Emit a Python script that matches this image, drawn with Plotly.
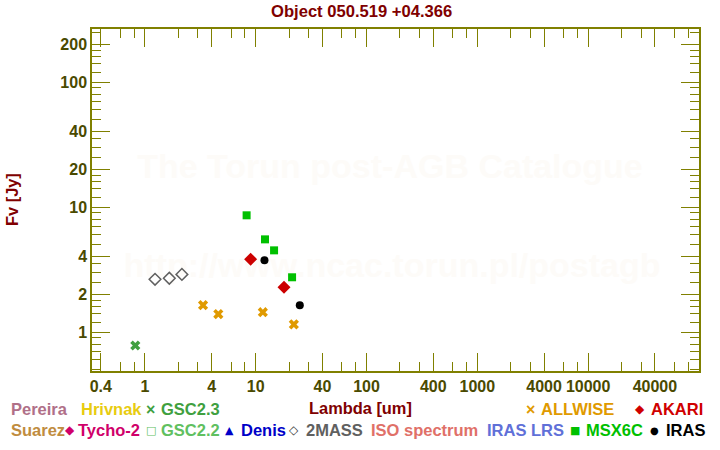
import plotly.graph_objects as go

# ---- data ----
gsc23_x = [0.82]
gsc23_y = [0.78]
twomass_x = [1.235, 1.662, 2.159]
twomass_y = [2.64, 2.69, 2.89]
allwise_x = [3.35, 4.6, 11.6, 22.1]
allwise_y = [1.64, 1.39, 1.44, 1.15]
msx_x = [8.28, 12.13, 14.65, 21.3]
msx_y = [8.58, 5.51, 4.50, 2.74]
akari_x = [9.0, 18.0]
akari_y = [3.82, 2.28]
iras_x = [12.0, 25.0]
iras_y = [3.75, 1.64]

x_major = [0.4, 1, 4, 10, 40, 100, 400, 1000, 4000, 10000, 40000]
x_minor = [0.6, 0.8, 2, 3, 6, 8, 20, 30, 60, 80, 200, 300, 600, 800,
           2000, 3000, 6000, 8000, 20000, 30000, 60000, 80000]
y_major = [1, 2, 4, 10, 20, 40, 100, 200]
y_minor = [0.5, 0.6, 0.7, 0.8, 0.9, 1.2, 1.4, 1.6, 1.8, 2.5, 3, 3.5, 5, 6, 7, 8, 9,
           12, 14, 16, 18, 25, 30, 35, 50, 60, 70, 80, 90, 120, 140, 160, 180, 250]

FONT = "Liberation Sans, Arial, sans-serif"
AX = "#808000"
TICKC = "#4a4a00"

fig = go.Figure()
fig.add_trace(go.Scatter(x=gsc23_x, y=gsc23_y, mode="markers", name="GSC2.3",
                         marker=dict(symbol="x", size=9, color="#40a040")))
fig.add_trace(go.Scatter(x=twomass_x, y=twomass_y, mode="markers", name="2MASS",
                         marker=dict(symbol="diamond-open", size=9, color="#606060",
                                     line=dict(width=1.5, color="#606060"))))
fig.add_trace(go.Scatter(x=allwise_x, y=allwise_y, mode="markers", name="ALLWISE",
                         marker=dict(symbol="x", size=9, color="#e09a00")))
fig.add_trace(go.Scatter(x=msx_x, y=msx_y, mode="markers", name="MSX6C",
                         marker=dict(symbol="square", size=8, color="#00c000")))
fig.add_trace(go.Scatter(x=akari_x, y=akari_y, mode="markers", name="AKARI",
                         marker=dict(symbol="diamond", size=10, color="#cc0000")))
fig.add_trace(go.Scatter(x=iras_x, y=iras_y, mode="markers", name="IRAS",
                         marker=dict(symbol="circle", size=8, color="#000000")))

axis_common = dict(
    type="log", showgrid=False, zeroline=False, showline=True, linecolor=AX,
    linewidth=1.5, mirror="allticks", ticks="inside", ticklen=18, tickwidth=1.2,
    tickcolor=AX, tickfont=dict(family=FONT, size=16, color=TICKC, weight="bold"),
    tickmode="array",
)
fig.update_xaxes(**axis_common, range=[-0.477, 5.0], tickvals=x_major,
                 ticktext=[str(v) for v in x_major],
                 minor=dict(tickvals=x_minor, ticks="inside", ticklen=9,
                            tickwidth=1.2, tickcolor=AX))
fig.update_yaxes(**axis_common, range=[-0.312, 2.424], tickvals=y_major,
                 ticktext=[str(v) for v in y_major],
                 minor=dict(tickvals=y_minor, ticks="inside", ticklen=9,
                            tickwidth=1.2, tickcolor=AX))

L, R, T, B = 92, 699, 29, 371
W, H = 720, 450


def px(x):
    return (x - L) / (R - L)


def py(y):
    return (B - y) / (B - T)


ann = []
ann.append(dict(text="<b>Object 050.519 +04.366</b>", x=px(361), y=py(12),
                font=dict(family=FONT, size=16.6, color="#800000")))
ann.append(dict(text="<b>Lambda [um]</b>", x=px(360), y=py(408),
                font=dict(family=FONT, size=16.4, color="#800000")))
ann.append(dict(text="<b>Fv [Jy]</b>", x=px(12), y=py(200), textangle=-90,
                font=dict(family=FONT, size=16.4, color="#800000")))

legend_items = [
    # (text, text left x, y, color, glyph, glyph center x, glyph color, glyph size)
    ("Pereira", 9, 409, "#b07088", "", 0, None, 0),
    ("Hrivnak", 79, 409, "#e8cc10", "", 0, None, 0),
    ("GSC2.3", 159, 409, "#40a040", "×", 150.5, "#40a040", 16),
    ("ALLWISE", 539, 409, "#e09a00", "×", 530.5, "#e09a00", 16),
    ("AKARI", 649, 409, "#d00000", "◆", 640, "#d00000", 12),
    ("Suarez", 9, 430, "#c08c40", "", 0, None, 0),
    ("Tycho-2", 76, 430, "#d0006a", "◆", 70, "#d0006a", 12),
    ("GSC2.2", 159, 430, "#60c060", "□", 150.5, "#60c060", 11),
    ("Denis", 239, 430, "#0000c8", "▲", 229, "#0000c8", 11),
    ("2MASS", 304, 430, "#606060", "◇", 294, "#404040", 12),
    ("ISO spectrum", 369, 430, "#e07068", "", 0, None, 0),
    ("IRAS LRS", 485, 430, "#6070d8", "", 0, None, 0),
    ("MSX6C", 584, 430, "#00c000", "■", 575, "#00c000", 11),
    ("IRAS", 664, 430, "#000000", "●", 654.5, "#000000", 10),
]
for text, lx, ly, col, glyph, gx, gcol, gs in legend_items:
    ann.append(dict(text=f"<b>{text}</b>", x=px(lx), y=py(ly), xanchor="left",
                    font=dict(family=FONT, size=16.5, color=col)))
    if glyph:
        gfam = FONT if glyph == "×" else "DejaVu Sans"
        ann.append(dict(text=f"<b>{glyph}</b>" if glyph == "×" else glyph,
                        x=px(gx), y=py(ly), xanchor="center",
                        font=dict(family=gfam, size=gs, color=gcol)))

for a in ann:
    a.setdefault("xanchor", "center")
    a.update(xref="paper", yref="paper", showarrow=False, yanchor="middle")
fig.update_layout(annotations=ann)

wm_color = "#fdfbf8"
shapes = []
for text, cx, cy in [("The Torun post-AGB Catalogue", 390, 163),
                     ("http://www.ncac.torun.pl/postagb", 392, 262)]:
    shapes.append(dict(type="rect", xref="paper", yref="paper",
                       x0=px(cx - 5), x1=px(cx + 5), y0=py(cy + 5), y1=py(cy - 5),
                       line=dict(width=0), fillcolor="rgba(0,0,0,0)", layer="below",
                       label=dict(text=f"<b>{text}</b>", textposition="middle center",
                                  font=dict(family=FONT, size=34, color=wm_color))))
fig.update_layout(shapes=shapes)

fig.update_layout(
    width=W, height=H, showlegend=False,
    margin=dict(l=L, r=W - R, t=T, b=H - B),
    paper_bgcolor="white", plot_bgcolor="white",
    font=dict(family=FONT),
)
fig.write_html("out.html")
